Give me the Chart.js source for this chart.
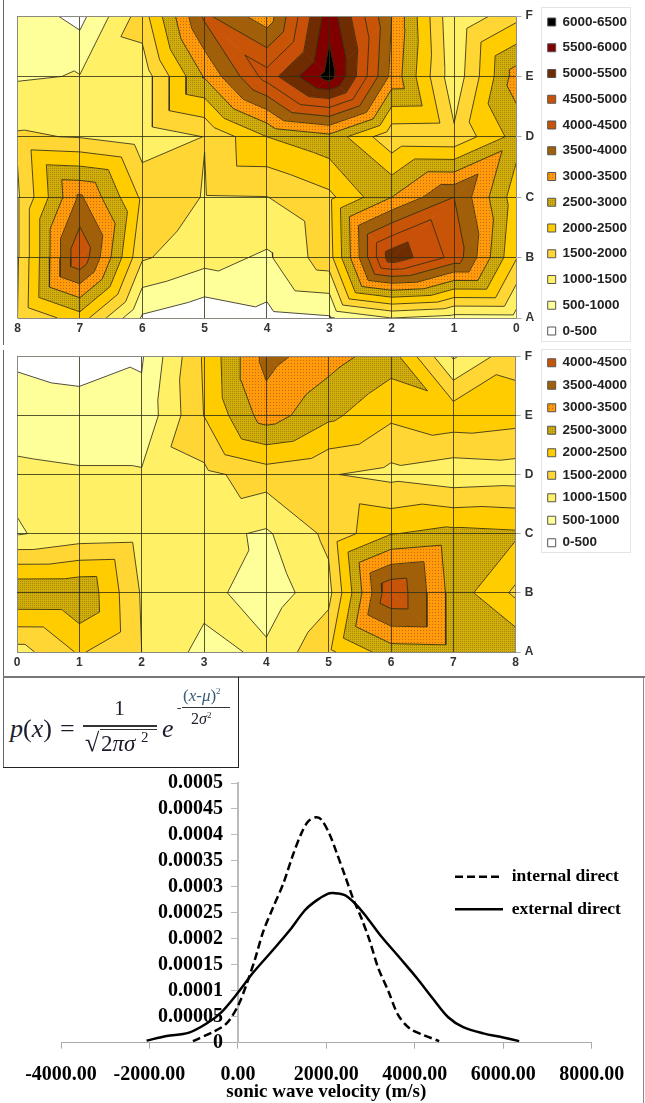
<!DOCTYPE html>
<html lang="en">
<head>
<meta charset="UTF-8">
<title>Sonic wave velocity maps</title>
<script src="https://cdn.jsdelivr.net/npm/chart.js@4"></script>
<style>
    html, body { margin: 0; padding: 0; background: #fff; }
    #page { position: relative; width: 645px; height: 1103px; overflow: hidden; font-family: "Liberation Serif", serif; }
    canvas { position: absolute; left: 0; filter: blur(0.4px); }
    .frame { position: absolute; border: 1px solid #e4e4e4; background: #fff; }
    .rule { position: absolute; background: #666; }
    .f { position: absolute; white-space: nowrap; color: #1c1c2c; line-height: 1; }
    .i { font-style: italic; }
</style>
</head>
<body>
<div id="page">
    <div class="frame" style="left:541px;top:7px;width:88px;height:333px"></div>
    <div class="frame" style="left:541px;top:349px;width:88px;height:202px"></div>
    <canvas id="topMap" width="645" height="390" style="top:0"></canvas>
    <canvas id="bottomMap" width="645" height="332" style="top:345px"></canvas>
    <canvas id="velocityChart" width="645" height="335" style="top:768px"></canvas>

    <div class="rule" style="left:3px;top:0;width:1px;height:345px"></div>
    <div class="rule" style="left:3px;top:350px;width:1px;height:418px"></div>
    <div class="rule" style="left:3px;top:676px;width:642px;height:2px;background:#777"></div>
    <div class="rule" style="left:3px;top:767px;width:235px;height:1px;background:#222"></div>
    <div class="rule" style="left:238px;top:677px;width:1px;height:91px;background:#222"></div>
    <div class="rule" style="left:643px;top:678px;width:1px;height:425px;background:#888"></div>

    <!-- formule -->
    <div class="f i" style="left:10px;top:716px;font-size:26px">p</div>
    <div class="f" style="left:23px;top:716px;font-size:26px">(<span class="i">x</span>)</div>
    <div class="f" style="left:60px;top:716px;font-size:26px">=</div>
    <div class="f" style="left:114px;top:697px;font-size:22px">1</div>
    <div class="rule" style="left:83px;top:725px;width:74px;height:2px;background:#333"></div>
    <div class="f" style="left:85px;top:730px;font-size:26px">√</div>
    <div class="rule" style="left:100px;top:729px;width:57px;height:1px;background:#333"></div>
    <div class="f" style="left:101px;top:732px;font-size:23px">2<span class="i">πσ</span></div>
    <div class="f" style="left:141px;top:730px;font-size:15px">2</div>
    <div class="f i" style="left:162px;top:716px;font-size:26px">e</div>
    <div class="f" style="left:177px;top:701px;font-size:13px">-</div>
    <div class="f" style="left:183px;top:687px;font-size:17px;color:#3a5a78">(<span class="i">x</span>-<span class="i">μ</span>)<sup style="font-size:9px">2</sup></div>
    <div class="rule" style="left:182px;top:707px;width:48px;height:1px;background:#333"></div>
    <div class="f" style="left:191px;top:711px;font-size:16px">2<span class="i">σ</span><sup style="font-size:9px">2</sup></div>
</div>

<script>
// valeurs lues aux noeuds de la grille, rangees de F vers A, colonnes 0 a 8
const topRowF = [1850, 1050, 3500, 5800, 3200, 4100, 1750, 340, 800];
const topRowE = [3250, 1150, 3360, 6250, 4720, 3050, 1195, 1020, 950];
const topRowD = [2700, 1600, 1630, 2850, 2500, 1510, 1200, 1470, 1560];
const topRowC = [2220, 4000, 3000, 1880, 1490, 1470, 1900, 3590, 1430];
const topRowB = [2030, 4340, 5350, 1800, 920, 1187, 1560, 4430, 1450];
const topRowA = [820, 800, 1000, 450, 345, 130, 430, 2280, 1500];

const bottomRowF = [400, 270, 450, 2060, 3680, 3200, 2740, 930, 1850];
const bottomRowE = [780, 720, 630, 2010, 3250, 2620, 2100, 2330, 2215];
const bottomRowD = [1100, 1050, 1050, 1370, 1740, 1530, 1350, 1170, 1235];
const bottomRowC = [960, 1200, 1250, 1150, 930, 1622, 2480, 2650, 2580];
const bottomRowB = [2970, 2980, 1450, 1180, 700, 1345, 4450, 2790, 1900];
const bottomRowA = [1280, 2060, 1500, 830, 1100, 1900, 2760, 2800, 2930];

const rowLabels = ['A', 'B', 'C', 'D', 'E', 'F'];
const bandLabels = ['0-500', '500-1000', '1000-1500', '1500-2000', '2000-2500', '2500-3000', '3000-3500',
    '3500-4000', '4000-4500', '4500-5000', '5000-5500', '5500-6000', '6000-6500'];
const bandLimits = [0, 500, 1000, 1500, 2000, 2500, 3000, 3500, 4000, 4500, 5000, 5500, 6000, 6500];

const internalVelocity = [-1017, -558, -256, 8, 197, 384, 572, 798, 1025, 1251, 1440, 1590, 1764, 1892, 2080,
    2231, 2419, 2607, 2797, 2985, 3172, 3399, 3625, 3889, 4190, 4552];
const internalDensity = [0.000003, 0.000021, 0.000037, 0.000072, 0.000113, 0.00016, 0.000214, 0.000261, 0.000306,
    0.000363, 0.000404, 0.000426, 0.000434, 0.000429, 0.0004, 0.000366, 0.000322, 0.000277, 0.000239, 0.000195,
    0.000144, 0.0001, 0.000053, 0.000027, 0.000015, 0.000003];
const externalVelocity = [-2065, -1612, -1123, -708, -369, 8, 346, 798, 1176, 1515, 1780, 2042, 2155, 2419, 2684,
    2910, 3211, 3663, 4041, 4416, 4755, 5095, 5547, 5999, 6361];
const externalDensity = [0.000004, 0.000013, 0.000019, 0.000037, 0.000059, 0.000097, 0.000135, 0.000179, 0.000217,
    0.000255, 0.000274, 0.000287, 0.000288, 0.000284, 0.000265, 0.000242, 0.000208, 0.000163, 0.000125, 0.000084,
    0.000049, 0.00003, 0.000018, 0.00001, 0.000003];
const densityTicks = ['0', '0.00005', '0.0001', '0.00015', '0.0002', '0.00025', '0.0003', '0.00035', '0.0004',
    '0.00045', '0.0005'];

// motif pointille pour les bandes olive et orange
function dotted(base, dot, step) {
    const c = document.createElement('canvas');
    c.width = step;
    c.height = step;
    const g = c.getContext('2d');
    g.fillStyle = base;
    g.fillRect(0, 0, step, step);
    g.fillStyle = dot;
    g.fillRect(0, 0, 1, 1);
    return g.createPattern(c, 'repeat');
}

const bandColors = ['#ffffff', '#ffff99', '#fff066', '#ffd633', '#ffcc00', dotted('#d2ae0c', '#a88a08', 2),
    dotted('#ff9a0a', '#c86a10', 3), '#a05f08', '#c85408', '#c85008', '#6e2c00', '#800000', '#000000'];

function clipAbove(poly, level, keepAbove) {
    const out = [];
    poly.forEach((p, i) => {
        const q = poly[(i + 1) % poly.length];
        const pIn = keepAbove ? p.v >= level : p.v <= level;
        const qIn = keepAbove ? q.v >= level : q.v <= level;
        if (pIn) out.push(p);
        if (pIn !== qIn) {
            const t = (level - p.v) / (q.v - p.v);
            out.push({ x: p.x + t * (q.x - p.x), y: p.y + t * (q.y - p.y), v: level });
        }
    });
    return out;
}

// chaque maille est coupee en 2 triangles par la diagonale partant du coin le plus haut
function buildContours(rows) {
    const bands = bandLabels.map(() => []);
    const lines = [];
    const gap = { x: null, y: null };
    const node = (c, r) => ({ x: c, y: 5 - r, v: rows[r][c] });
    for (let r = 0; r < rows.length - 1; r++) {
        for (let c = 0; c < rows[r].length - 1; c++) {
            const a = node(c, r), b = node(c + 1, r), d = node(c + 1, r + 1), e = node(c, r + 1);
            const top = Math.max(a.v, b.v, d.v, e.v);
            const tris = (top === a.v || top === d.v) ? [[a, b, d], [a, d, e]] : [[b, d, e], [b, e, a]];
            tris.forEach(tri => {
                bands.forEach((band, k) => {
                    let poly = clipAbove(tri, bandLimits[k], true);
                    if (poly.length) poly = clipAbove(poly, bandLimits[k + 1], false);
                    if (poly.length > 2) {
                        poly.forEach(p => band.push({ x: p.x, y: p.y }));
                        band.push({ x: poly[0].x, y: poly[0].y }, gap);
                    }
                });
                bandLimits.slice(1, -1).forEach(level => {
                    const cross = [];
                    tri.forEach((p, i) => {
                        const q = tri[(i + 1) % 3];
                        if ((p.v < level) !== (q.v < level)) {
                            const t = (level - p.v) / (q.v - p.v);
                            cross.push({ x: p.x + t * (q.x - p.x), y: p.y + t * (q.y - p.y) });
                        }
                    });
                    if (cross.length === 2) lines.push(cross[0], cross[1], gap);
                });
            });
        }
    }
    return { bands, lines };
}

function gridColor(limit) {
    return ctx => (ctx.tick && (ctx.tick.value === 0 || ctx.tick.value === limit)) ? '#8a8a80' : 'rgba(45,45,20,0.8)';
}

function drawMap(id, rows, shown, reversed, area) {
    const { bands, lines } = buildContours(rows);
    const datasets = [{ data: lines, showLine: true, borderColor: 'rgba(50,45,15,0.85)', borderWidth: 1, pointRadius: 0, fill: false }];
    bands.forEach((band, k) => {
        datasets.push({ data: band, showLine: true, borderColor: bandColors[k], backgroundColor: bandColors[k], borderWidth: 0.8, pointRadius: 0, fill: 'shape' });
    });
    const legendItems = [];
    for (let k = shown - 1; k >= 0; k--) {
        legendItems.push({ text: bandLabels[k], fillStyle: bandColors[k], strokeStyle: '#555', lineWidth: 1, fontColor: '#222' });
    }
    new Chart(document.getElementById(id), {
        type: 'scatter',
        data: { datasets },
        plugins: [{
            id: 'legendTop',
            beforeDraw(chart) { chart.legend.top = area.legendTop; }
        }],
        options: {
            responsive: false,
            animation: false,
            layout: { autoPadding: false, padding: { left: area.left, top: area.top, right: area.right, bottom: 0 } },
            elements: { line: { tension: 0 } },
            scales: {
                x: {
                    type: 'linear', min: 0, max: 8, reverse: reversed,
                    afterFit: s => { s.height = area.bottom; },
                    ticks: { stepSize: 1, padding: 3, color: '#333', font: { family: 'Liberation Sans', size: 12, weight: 'bold' } },
                    grid: { z: 1, color: gridColor(8), lineWidth: 1, drawTicks: false },
                    border: { display: false }
                },
                y: {
                    type: 'linear', min: 0, max: 5, position: 'right',
                    afterFit: s => { s.width = area.axis; },
                    ticks: { stepSize: 1, padding: 4, color: '#333', callback: v => rowLabels[v], font: { family: 'Liberation Sans', size: 12, weight: 'bold' } },
                    grid: { z: 1, color: gridColor(5), lineWidth: 1, tickColor: '#aaa', tickLength: 5 },
                    border: { display: false }
                }
            },
            plugins: {
                tooltip: { enabled: false },
                legend: {
                    position: 'right',
                    align: 'start',
                    onClick: null,
                    labels: {
                        boxWidth: 8, boxHeight: 8, padding: area.itemGap,
                        font: { family: 'Liberation Sans', size: 13.5, weight: 'bold' },
                        generateLabels: () => legendItems
                    }
                }
            }
        }
    });
}

drawMap('topMap', [topRowF, topRowE, topRowD, topRowC, topRowB, topRowA], 13, true,
    { left: 17.5, top: 16, right: 8, bottom: 72, axis: 19, itemGap: 12.25, legendTop: 3 });
drawMap('bottomMap', [bottomRowF, bottomRowE, bottomRowD, bottomRowC, bottomRowB, bottomRowA], 9, false,
    { left: 17, top: 9, right: 8, bottom: 25, axis: 23, itemGap: 9, legendTop: 2 });

const placeLegend = {
    id: 'placeLegend',
    beforeDraw(chart) {
        chart.legend.left = 440;
        chart.legend.right = 640;
        chart.legend.top = 85;
    }
};

new Chart(document.getElementById('velocityChart'), {
    type: 'scatter',
    data: {
        datasets: [
            {
                label: 'internal direct',
                data: internalVelocity.map((x, i) => ({ x, y: internalDensity[i] })),
                showLine: true, borderColor: '#000', backgroundColor: 'transparent', borderWidth: 2.5, borderDash: [8, 4], pointRadius: 0, tension: 0.3
            },
            {
                label: 'external direct',
                data: externalVelocity.map((x, i) => ({ x, y: externalDensity[i] })),
                showLine: true, borderColor: '#000', backgroundColor: 'transparent', borderWidth: 2.5, pointRadius: 0, tension: 0.3
            }
        ]
    },
    plugins: [placeLegend],
    options: {
        responsive: false,
        animation: false,
        layout: { autoPadding: false, padding: { left: 61, top: 11.3, right: 53.3, bottom: 0 } },
        scales: {
            x: {
                type: 'linear', min: -4000, max: 8000,
                afterFit: s => { s.height = 60.3; },
                ticks: { stepSize: 2000, padding: 14, color: '#000', callback: v => v.toFixed(2), maxRotation: 0, font: { family: 'Liberation Serif', size: 20, weight: 'bold' } },
                grid: { drawOnChartArea: false, color: '#aaa', tickLength: 6 },
                border: { color: '#aaa' },
                title: { display: true, text: 'sonic wave velocity (m/s)', color: '#000', padding: { top: 0, bottom: 0 }, font: { family: 'Liberation Serif', size: 19, weight: 'bold' } }
            },
            y: {
                type: 'linear', min: 0, max: 0.0005, position: { x: 0 },
                ticks: { stepSize: 0.00005, autoSkip: false, color: '#000', callback: (v, i) => densityTicks[i] + '\u00a0\u00a0\u00a0', font: { family: 'Liberation Serif', size: 20, weight: 'bold' } },
                grid: { drawOnChartArea: false, color: '#bbb', tickLength: 6 },
                border: { color: '#bbb', width: 2 }
            }
        },
        plugins: {
            tooltip: { enabled: false },
            legend: {
                position: 'chartArea',
                align: 'start',
                onClick: null,
                labels: {
                    usePointStyle: true, pointStyle: 'line', pointStyleWidth: 48, boxHeight: 17, padding: 15, color: '#000',
                    font: { family: 'Liberation Serif', size: 17.5, weight: 'bold' },
                    generateLabels: chart => chart.data.datasets.map(ds => ({
                        text: ds.label, strokeStyle: ds.borderColor, fillStyle: ds.borderColor, lineWidth: ds.borderWidth,
                        lineDash: ds.borderDash, pointStyle: 'line', fontColor: '#000'
                    }))
                }
            }
        }
    }
});
</script>
</body>
</html>
